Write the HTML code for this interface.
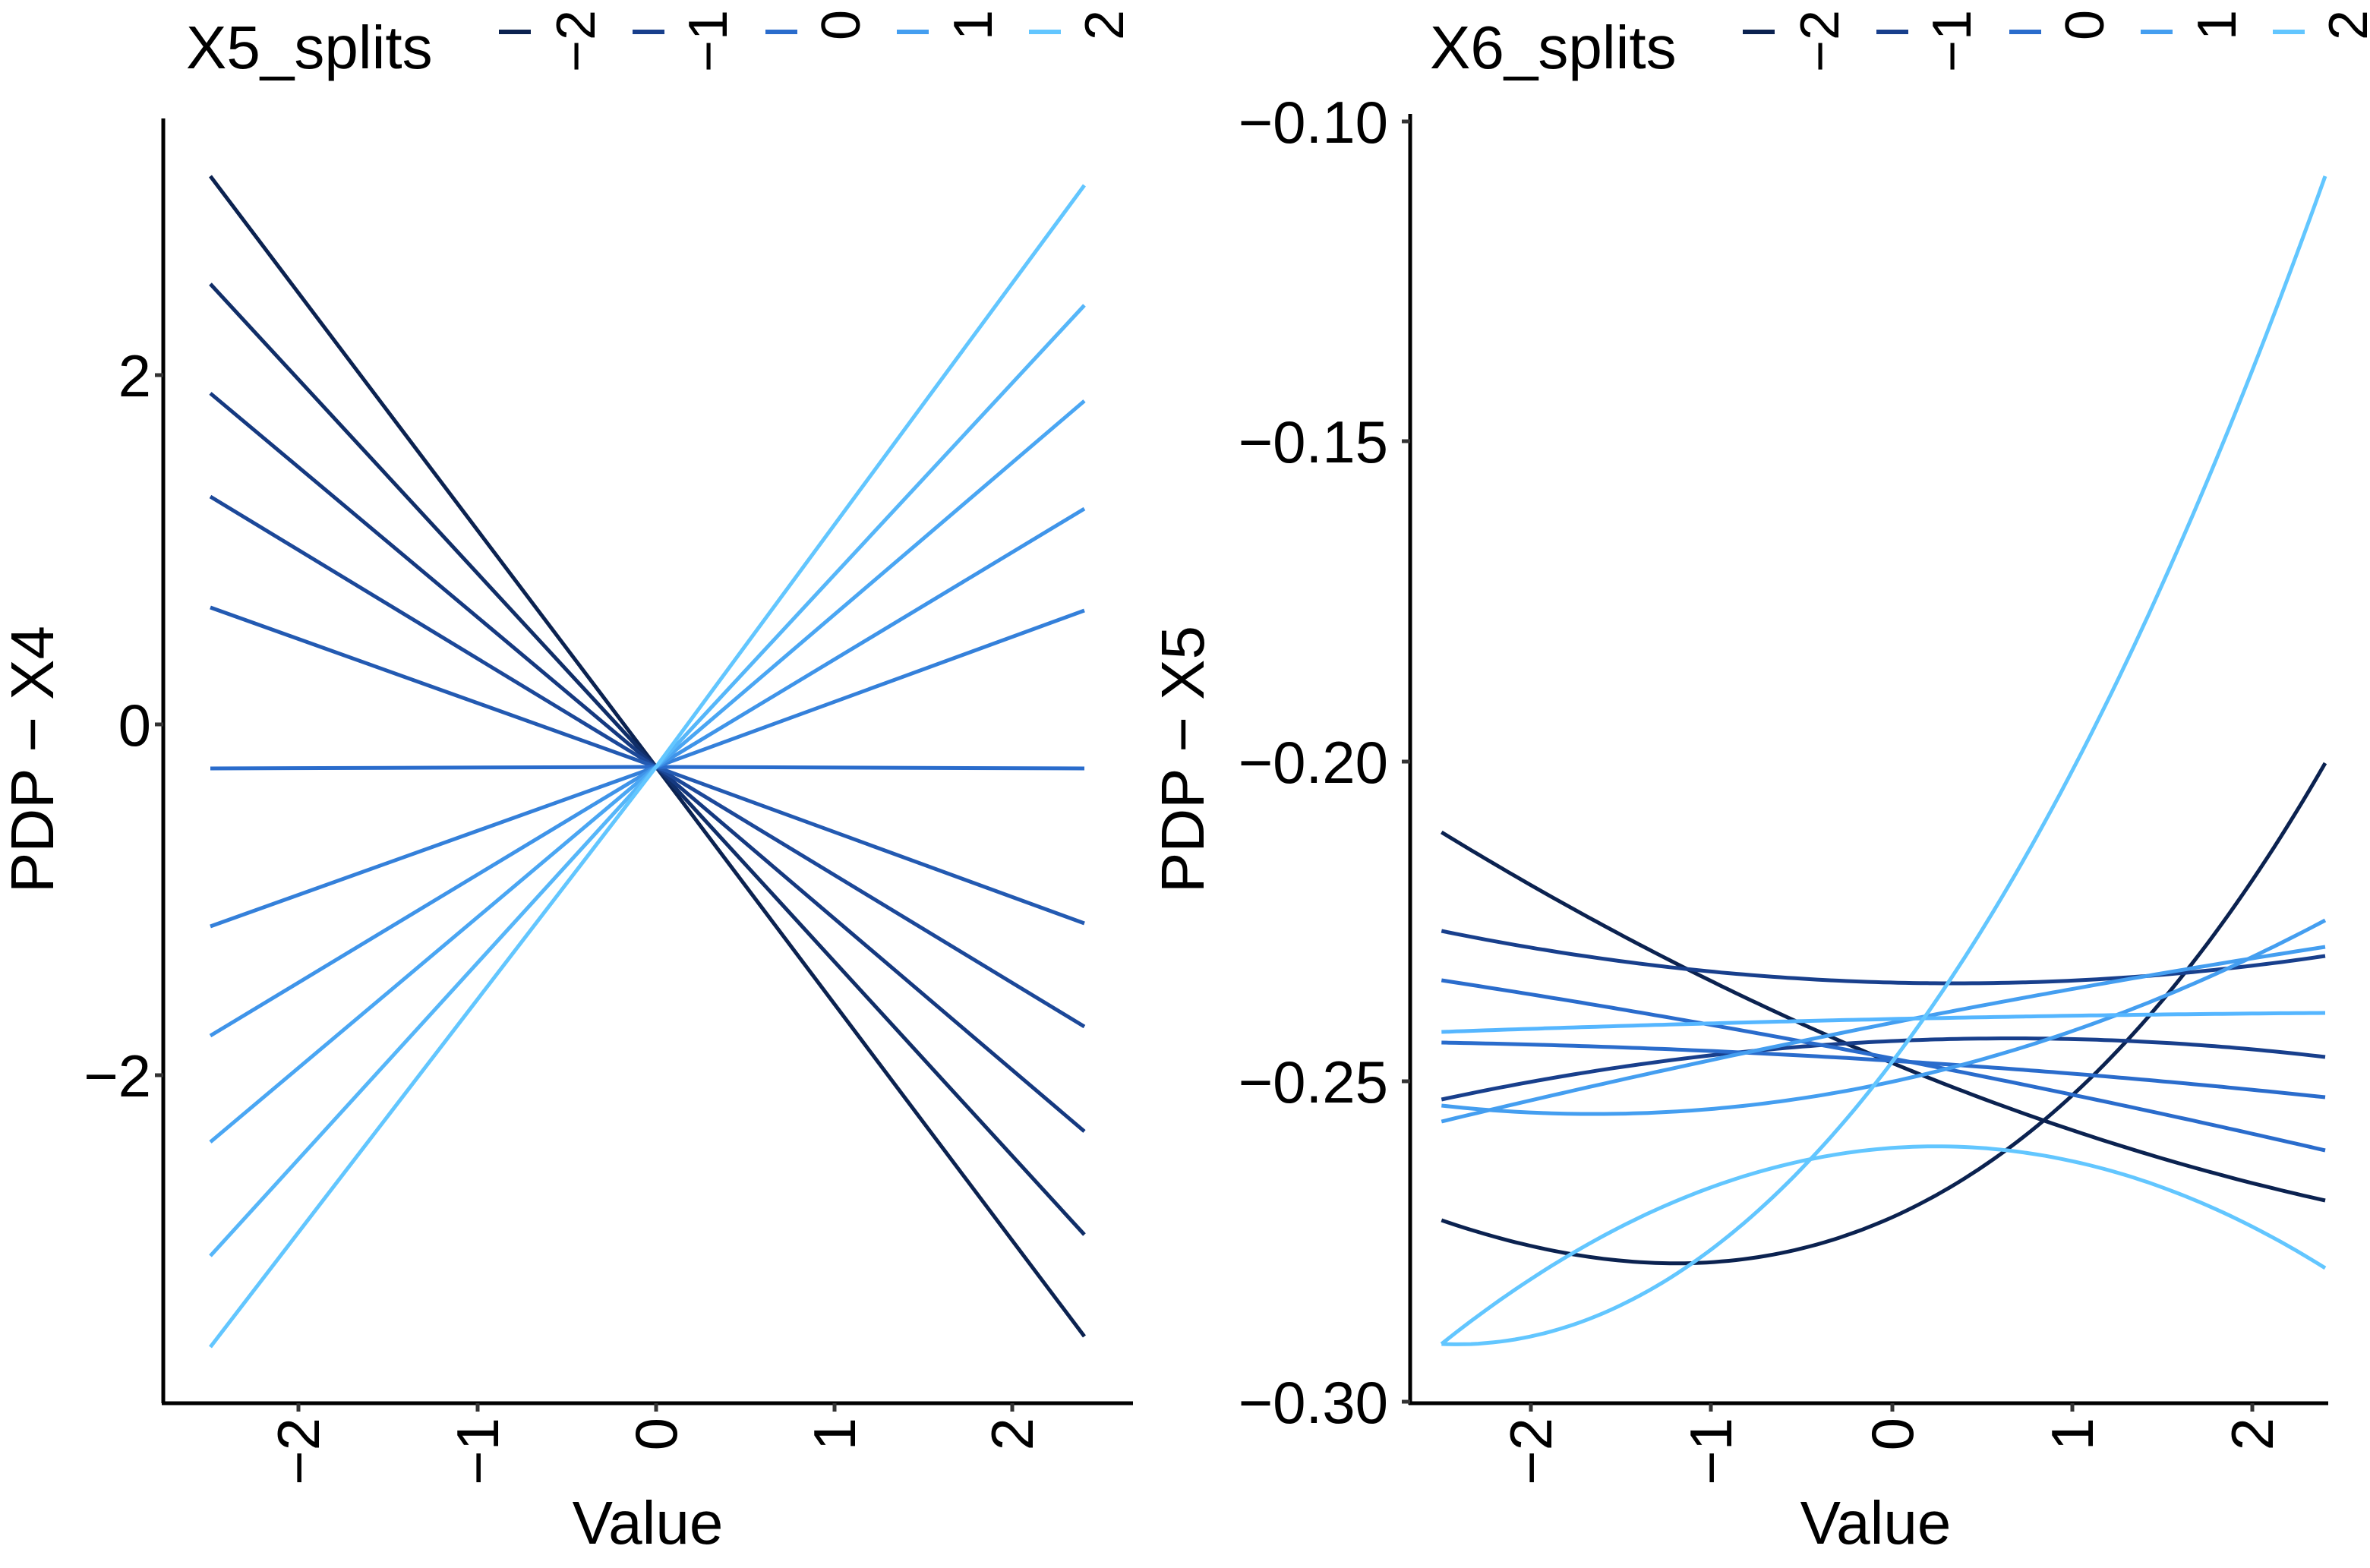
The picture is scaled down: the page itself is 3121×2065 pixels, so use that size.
<!DOCTYPE html>
<html><head><meta charset="utf-8"><style>
html,body{margin:0;padding:0;background:#fff;}
svg text{font-family:"Liberation Sans",sans-serif;fill:#000;}
</style></head><body>
<svg id="s" width="3121" height="2060" viewBox="0 0 3121 2060" xmlns="http://www.w3.org/2000/svg">
<rect width="3121" height="2060" fill="#fff"/>
<g id="g"></g>
<!-- left axes -->
<line x1="215" y1="156" x2="215" y2="1848" stroke="#000" stroke-width="5"/>
<line x1="213" y1="1848" x2="1492" y2="1848" stroke="#000" stroke-width="5"/>
<!-- right axes -->
<line x1="1857" y1="150" x2="1857" y2="1850" stroke="#000" stroke-width="5"/>
<line x1="1855" y1="1848" x2="3066" y2="1848" stroke="#000" stroke-width="5"/>
<g font-size="78" text-anchor="end">
<text x="199" y="522">2</text><text x="199" y="982">0</text><text x="199" y="1444">−2</text>
<text x="1828" y="188">−0.10</text><text x="1828" y="609">−0.15</text><text x="1828" y="1031">−0.20</text><text x="1828" y="1452">−0.25</text><text x="1828" y="1874">−0.30</text>
</g>
<g stroke="#333" stroke-width="5">
<line x1="204" y1="494" x2="215" y2="494"/><line x1="204" y1="954" x2="215" y2="954"/><line x1="204" y1="1416" x2="215" y2="1416"/>
<line x1="1846" y1="160" x2="1857" y2="160"/><line x1="1846" y1="581" x2="1857" y2="581"/><line x1="1846" y1="1003" x2="1857" y2="1003"/><line x1="1846" y1="1424" x2="1857" y2="1424"/><line x1="1846" y1="1846" x2="1857" y2="1846"/>
<line x1="393" y1="1848" x2="393" y2="1859"/><line x1="629" y1="1848" x2="629" y2="1859"/><line x1="864" y1="1848" x2="864" y2="1859"/><line x1="1099" y1="1848" x2="1099" y2="1859"/><line x1="1333" y1="1848" x2="1333" y2="1859"/>
<line x1="2016" y1="1848" x2="2016" y2="1859"/><line x1="2253" y1="1848" x2="2253" y2="1859"/><line x1="2492" y1="1848" x2="2492" y2="1859"/><line x1="2729" y1="1848" x2="2729" y2="1859"/><line x1="2966" y1="1848" x2="2966" y2="1859"/>
</g>
<g font-size="78" text-anchor="end" id="xt"></g>
<text x="853" y="2033" font-size="80" text-anchor="middle">Value</text>
<text x="2470" y="2033" font-size="80" text-anchor="middle">Value</text>
<text transform="translate(70,1000) rotate(-90)" font-size="80" text-anchor="middle">PDP − X4</text>
<text transform="translate(1585,1000) rotate(-90)" font-size="80" text-anchor="middle">PDP − X5</text>
<text x="245" y="90" font-size="80">X5_splits</text>
<text x="1883" y="90" font-size="80">X6_splits</text>
<g id="leg"></g>
</svg>
<script>
var NS="http://www.w3.org/2000/svg",g=document.getElementById('g');
function el(p,t,a){var e=document.createElementNS(NS,t);for(var k in a)e.setAttribute(k,a[k]);p.appendChild(e);return e;}
var C=["#0b2250","#183f8c","#2a6ccc","#449ef0","#62c6ff"];
// x tick labels
var xt=document.getElementById('xt');
[[393,"−2"],[629,"−1"],[864,"0"],[1099,"1"],[1333,"2"],[2016,"−2"],[2253,"−1"],[2492,"0"],[2729,"1"],[2966,"2"]].forEach(function(a){
 var t=el(xt,'text',{transform:'translate('+(a[0]+27)+',1867) rotate(-90)'});t.textContent=a[1];});
// legend
var leg=document.getElementById('leg'),labs=["−2","−1","0","1","2"];
[[657,2294],[1638,0]].forEach(function(){});
for(var p=0;p<2;p++){var off=p?0:-1638;
 var keys=[2295,2471,2646,2819,2993],lx=[2394,2568,2743,2917,3090];
 for(var i=0;i<5;i++){el(leg,'line',{x1:keys[i]+off,y1:42,x2:keys[i]+42+off,y2:42,stroke:C[i],'stroke-width':6});
  var t=el(leg,'text',{transform:'translate('+(lx[i]+off+27)+',13) rotate(-90)','font-size':'72','text-anchor':'end'});t.textContent=labs[i];}}
// left lines
function mix(a,b,t){var pa=parseInt(a.slice(1),16),pb=parseInt(b.slice(1),16),r=[];for(var s=16;s>=0;s-=8){r.push(Math.round(((pa>>s)&255)*(1-t)+((pb>>s)&255)*t));}return 'rgb('+r.join(',')+')';}
function grad(t){var x=t*4,i=Math.min(3,Math.floor(x));return mix(C[i],C[i+1],x-i);}
var L=[116,187,259,327,400,506,610,682,752,827,887],R=[880,813,745,676,608,506,402,335,264,201,122];
for(var i=0;i<11;i++){el(g,'polyline',{points:'277,'+(L[i]*2)+' 864,1010 1428,'+(R[i]*2),fill:'none',stroke:grad(i/10),'stroke-width':5});}
// right curves
function X(v){return 2492+v*237.5;}
function lag(pts,x){var s=0;for(var i=0;i<pts.length;i++){var t=pts[i][1];for(var j=0;j<pts.length;j++)if(j!=i)t*=(x-pts[j][0])/(pts[i][0]-pts[j][0]);s+=t;}return s;}
var curves=[
 [[[-2.5,1096],[0,1400],[2.4,1581]],C[0]],
 [[[-2.5,1607],[-1.34,1663],[0.93,1457],[2.4,1005]],C[0]],
 [[[-2.5,1226],[0,1294],[2.4,1259]],C[1]],
 [[[-2.5,1448],[0,1371],[2.4,1392]],C[1]],
 [[[-2.5,1291],[0,1394],[2.4,1515]],C[2]],
 [[[-2.5,1373],[0,1397],[2.4,1445]],C[2]],
 [[[-2.5,1477],[0,1347],[2.4,1247]],C[3]],
 [[[-2.5,1456],[-1.6,1467],[2.4,1212]],C[3]],
 [[[-2.5,1359],[0,1342],[2.4,1334]],"#55b6ff"],
 [[[-2.5,1770],[0.34,1510],[2.4,1670]],C[4]],
 [[[-2.5,1770],[-1.1,1662],[1.03,1000],[2.4,232]],C[4]]
];
curves.forEach(function(c){var pts=[];for(var k=0;k<=120;k++){var v=-2.5+4.9*k/120;pts.push(X(v).toFixed(1)+','+lag(c[0],v).toFixed(1));}
 el(g,'polyline',{points:pts.join(' '),fill:'none',stroke:c[1],'stroke-width':5});});
</script>
</body></html>
